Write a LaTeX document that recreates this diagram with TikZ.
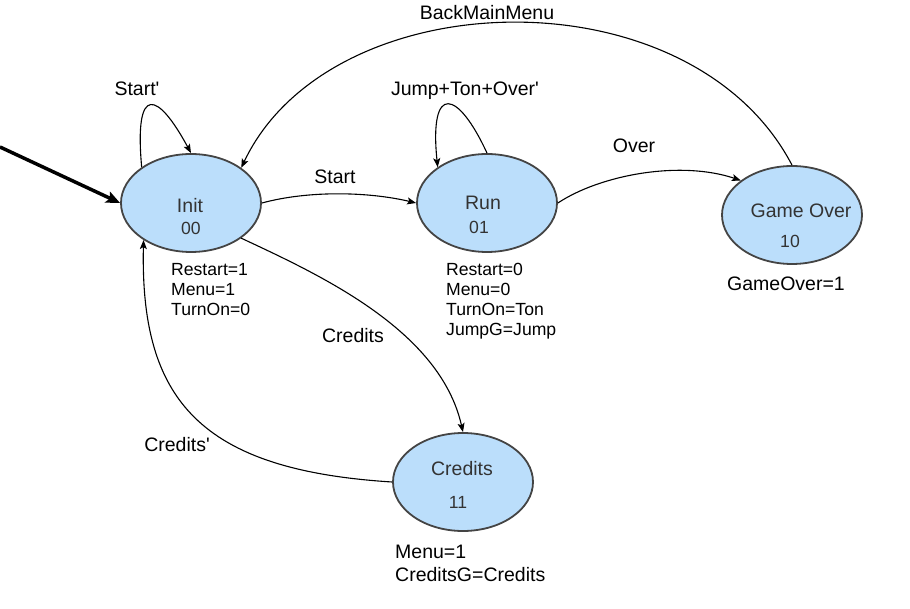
\documentclass[tikz,border=0pt]{standalone}
\usepackage{fontspec}
\setmainfont{Liberation Sans}
\usetikzlibrary{arrows.meta,shapes.geometric}
\definecolor{stfill}{RGB}{187,222,251}
\definecolor{stline}{RGB}{68,68,68}
\tikzset{st/.append style={ellipse, draw=stline, fill=stfill, line width=1.8pt, minimum width=140pt, minimum height=98pt, inner sep=0pt}}
\tikzset{tr/.append style={-{Stealth[length=9pt,width=7pt,inset=2pt]}, line width=1.1pt}}
\tikzset{ini/.append style={-{Stealth[length=14pt,width=12pt,inset=3pt]}, line width=3.5pt}}
\tikzset{lb/.append style={font=\fontsize{19.5}{23}\selectfont, inner sep=0pt}}
\tikzset{nm/.append style={font=\fontsize{19.5}{23}\selectfont, inner sep=0pt, text=black!80}}
\tikzset{cd/.append style={font=\fontsize{17.6}{20}\selectfont, inner sep=0pt, text=black!80}}
\tikzset{ot/.append style={font=\fontsize{17.6}{20}\selectfont, inner sep=0pt, align=left, anchor=north west}}

\begin{document}
\begin{tikzpicture}[x=1pt,y=-1pt]
                \useasboundingbox (0,0) rectangle (910,609);
                % states
                \node[st] (i) at (191,203) {};
                \node[st] (r) at (487,203) {};
                \node[st] (g) at (792,215) {};
                \node[st] (c) at (463,482) {};
                \node[nm] (ni) at (190,206) {Init};
                \node[cd] (ci) at (191,228) {00};
                \node[nm] (nr) at (483,203) {Run};
                \node[cd] (cr) at (479,227) {01};
                \node[nm] (ng) at (801,211) {Game Over};
                \node[cd] (cg) at (790,241) {10};
                \node[nm] (nc) at (462,469) {Credits};
                \node[cd] (cc) at (458,502) {11};
                % outputs
                \node[ot] (oi) at (171,263) {Restart=1\\Menu=1\\TurnOn=0};
                \node[ot] (or) at (446,263) {Restart=0\\Menu=0\\TurnOn=Ton\\JumpG=Jump};
                \node[ot,font=\fontsize{19.5}{22.5}\selectfont] (og) at (727,277) {GameOver=1};
                \node[ot,font=\fontsize{19.5}{22.5}\selectfont] (oc) at (395,545) {Menu=1\\CreditsG=Credits};
                % transitions
                \coordinate (s0) at (0,147);
                \draw[ini] (s0) -- (i.west);
                \draw[tr] (i.144) .. controls (134,82) and (158,92) .. (i.90);
                \draw[tr] (r.90) .. controls (458,90) and (429,82) .. (r.144);
                \draw[tr] (i.east) .. controls (310,190) and (370,192) .. (r.west);
                \draw[tr] (r.east) .. controls (600,175) and (680,160) .. (g.146);
                \draw[tr] (g.90) .. controls (690,-30) and (330,-20) .. (i.35);
                \draw[tr] (i.-35) .. controls (320,275) and (440,330) .. (c.90);
                \draw[tr] (c.west) .. controls (200,470) and (140,400) .. (i.218);
                \node[lb] (li) at (137,89) {Start\textquotesingle};
                \node[lb] (lir) at (335,177) {Start};
                \node[lb] (lr) at (465,91) {Jump+Ton+Over\textquotesingle};
                \node[lb] (lrg) at (634,146) {Over};
                \node[lb] (lgi) at (487,13) {BackMainMenu};
                \node[lb] (lic) at (353,336) {Credits};
                \node[lb] (lci) at (177,445) {Credits\textquotesingle};
            \end{tikzpicture}
\end{document}
